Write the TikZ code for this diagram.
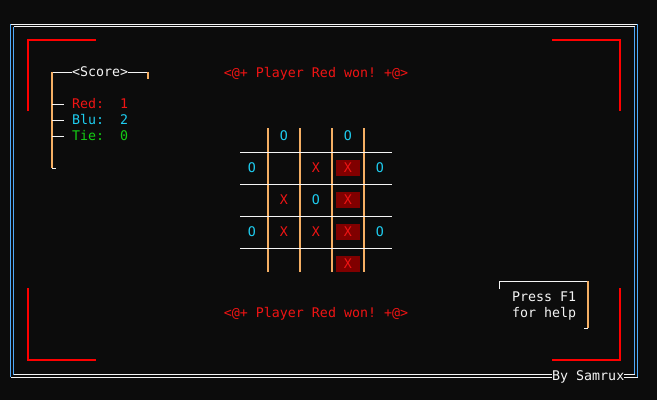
\documentclass[tikz,border=0pt]{standalone}
\usepackage{fontspec}
\setmonofont{DejaVu Sans Mono}
\definecolor{bgdark}{RGB}{12,12,12}
\definecolor{cornerred}{RGB}{255,0,0}
\definecolor{termred}{RGB}{240,20,20}
\definecolor{termcyan}{RGB}{30,205,240}
\definecolor{termgreen}{RGB}{20,205,20}
\definecolor{termorange}{RGB}{245,175,100}
\definecolor{termblue}{RGB}{80,170,250}
\definecolor{termwhite}{RGB}{245,245,245}
\definecolor{cellred}{RGB}{128,0,0}
\tikzset{
  term/.style={font=\ttfamily\fontsize{13.3}{16}\selectfont,inner sep=0pt,text height=9.6pt,text depth=0pt},
  hline/.style={termwhite,line width=1pt},
  vline/.style={termorange,line width=1.2pt},
  frameside/.style={termblue,line width=1.2pt},
  corner/.style={cornerred,line width=1.6pt},
  hlcell/.style={fill=cellred,minimum width=24pt,minimum height=16pt}
}
\begin{document}
\begin{tikzpicture}[x=1pt,y=-1pt]
\fill[bgdark] (0,0) rectangle (657,400);
\useasboundingbox (0,0) rectangle (657,400);

% double frame
\draw[hline] (10.5,24) -- (637.5,24);
\draw[hline] (13.5,26.5) -- (634.5,26.5);
\draw[frameside] (10.5,24) -- (10.5,377);
\draw[frameside] (13.5,26.5) -- (13.5,374.5);
\draw[frameside] (637.5,24) -- (637.5,377);
\draw[frameside] (634.5,26.5) -- (634.5,374.5);
\node[term,termwhite,anchor=west] (author) at (552,376) {By Samrux};
\draw[hline] (10.5,377) -- (author.west |- 0,377);
\draw[hline] (13.5,374.5) -- (author.west |- 0,374.5);
\draw[hline] (author.east |- 0,377) -- (637.5,377);
\draw[hline] (author.east |- 0,374.5) -- (634.5,374.5);

% red corners
\draw[corner] (28,111) -- (28,40) -- (96,40);
\draw[corner] (552,40) -- (620,40) -- (620,111);
\draw[corner] (28,288) -- (28,360) -- (96,360);
\draw[corner] (552,360) -- (620,360) -- (620,288);

% score box
\node[term,termwhite,anchor=west] (score) at (72,72) {<Score>};
\draw[hline] (52,72) -- (score.west |- 0,72);
\draw[hline] (score.east |- 0,72) -- (148,72);
\draw[vline] (148,72) -- (148,79);
\draw[vline] (52,72) -- (52,168);
\draw[hline] (52,168) -- (56,168);
\draw[hline] (52,104) -- (64,104);
\draw[hline] (52,120) -- (64,120);
\draw[hline] (52,136) -- (64,136);
\node[term,termred,anchor=west] (red) at (72,104) {Red:\ \ 1};
\node[term,termcyan,anchor=west] (blu) at (72,120) {Blu:\ \ 2};
\node[term,termgreen,anchor=west] (tie) at (72,136) {Tie:\ \ 0};

% messages
\node[term,termred] (wontop) at (316,73) {<@+ Player Red won! +@>};
\node[term,termred] (wonbot) at (316,313) {<@+ Player Red won! +@>};

% board
\draw[vline] (268,128) -- (268,272);
\draw[vline] (300,128) -- (300,272);
\draw[vline] (332,128) -- (332,272);
\draw[vline] (364,128) -- (364,272);
\draw[hline] (240,152) -- (392,152);
\draw[hline] (240,184) -- (392,184);
\draw[hline] (240,216) -- (392,216);
\draw[hline] (240,248) -- (392,248);

\node[term,termcyan] (c01) at (284,136) {O};
\node[term,termcyan] (c03) at (348,136) {O};
\node[term,termcyan] (c10) at (252,168) {O};
\node[term,termred] (c12) at (316,168) {X};
\node[term,termred,hlcell] (c13) at (348,168) {X};
\node[term,termcyan] (c14) at (380,168) {O};
\node[term,termred] (c21) at (284,200) {X};
\node[term,termcyan] (c22) at (316,200) {O};
\node[term,termred,hlcell] (c23) at (348,200) {X};
\node[term,termcyan] (c30) at (252,232) {O};
\node[term,termred] (c31) at (284,232) {X};
\node[term,termred] (c32) at (316,232) {X};
\node[term,termred,hlcell] (c33) at (348,232) {X};
\node[term,termcyan] (c34) at (380,232) {O};
\node[term,termred,hlcell] (c43) at (348,264) {X};

% help box
\draw[hline] (499,289) -- (499,281) -- (588,281);
\draw[vline] (588,281) -- (588,328);
\draw[hline] (584,328) -- (588,328);
\node[term,termwhite,anchor=west] (press) at (512,297) {Press F1};
\node[term,termwhite,anchor=west] (help) at (512,313) {for help};
\end{tikzpicture}
\end{document}
